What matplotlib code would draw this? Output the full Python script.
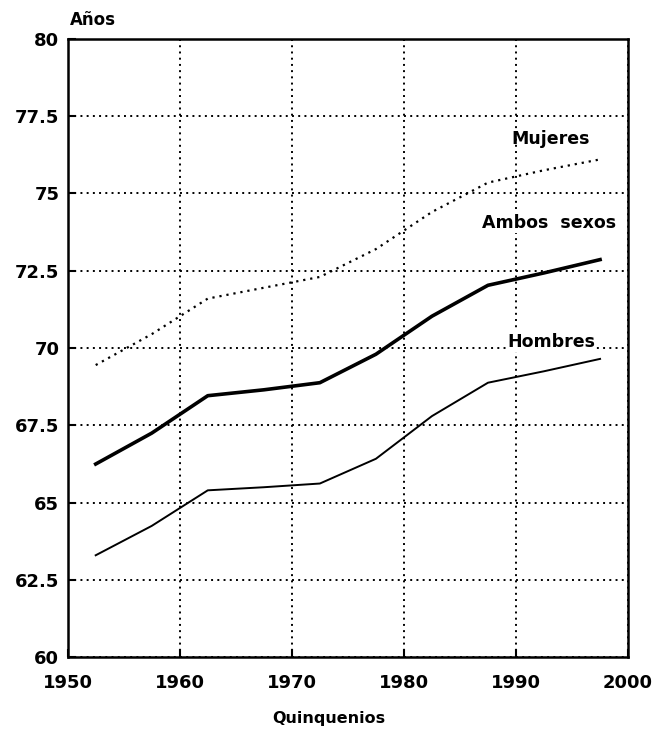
import numpy as np
import matplotlib
matplotlib.use("Agg")
import matplotlib.pyplot as plt

plt.rcParams['font.family'] = ['DejaVu Sans']
plt.rcParams['font.weight'] = 'bold'

# quinquenios (punto medio de cada periodo)
years = [1952.5, 1957.5, 1962.5, 1967.5, 1972.5, 1977.5, 1982.5, 1987.5, 1992.5, 1997.5]
mujeres = [69.45, 70.45, 71.6, 71.95, 72.3, 73.2, 74.4, 75.35, 75.75, 76.1]
ambos = [66.25, 67.25, 68.46, 68.65, 68.88, 69.8, 71.03, 72.03, 72.43, 72.86]
hombres = [63.3, 64.25, 65.4, 65.5, 65.62, 66.42, 67.8, 68.88, 69.25, 69.65]

xticks = [1950, 1960, 1970, 1980, 1990, 2000]
yticks = [60, 62.5, 65, 67.5, 70, 72.5, 75, 77.5, 80]
ylabels = ['60', '62.5', '65', '67.5', '70', '72.5', '75', '77.5', '80']

fig = plt.figure(figsize=(6.57, 7.32), dpi=100)
ax = fig.add_axes([0.103, 0.102, 0.853, 0.845])

ax.plot(years, mujeres, color='black', lw=1.6, ls=(0, (1, 2.2)))
ax.plot(years, ambos, color='black', lw=2.6)
ax.plot(years, hombres, color='black', lw=1.4)

ax.set_xlim(1950, 2000)
ax.set_ylim(60, 80)
ax.set_xticks(xticks)
ax.set_yticks(yticks)
ax.set_yticklabels(ylabels)
ax.tick_params(direction='in', length=6, width=1.5, labelsize=13)
ax.tick_params(axis='x', pad=12)
ax.tick_params(axis='y', pad=6)
for lab in ax.get_xticklabels() + ax.get_yticklabels():
    lab.set_fontweight('bold')
ax.grid(True, color='black', ls=(0, (1, 2.2)), lw=1.4)
for s in ax.spines.values():
    s.set_linewidth(1.8)

ax.text(1989.6, 76.75, 'Mujeres', fontsize=12.5, fontweight='bold', va='center')
ax.text(1987.0, 74.05, 'Ambos  sexos', fontsize=12.5, fontweight='bold', va='center',
        bbox=dict(facecolor='white', edgecolor='none', pad=1))
ax.text(1989.2, 70.2, 'Hombres', fontsize=12.5, fontweight='bold', va='center',
        bbox=dict(facecolor='white', edgecolor='none', pad=1))

fig.text(0.106, 0.972, 'Años', fontsize=12, fontweight='bold', ha='left', va='center')
fig.text(0.5, 0.019, 'Quinquenios', fontsize=11.5, fontweight='bold', ha='center', va='center')

fig.savefig('out.png', dpi=100)
